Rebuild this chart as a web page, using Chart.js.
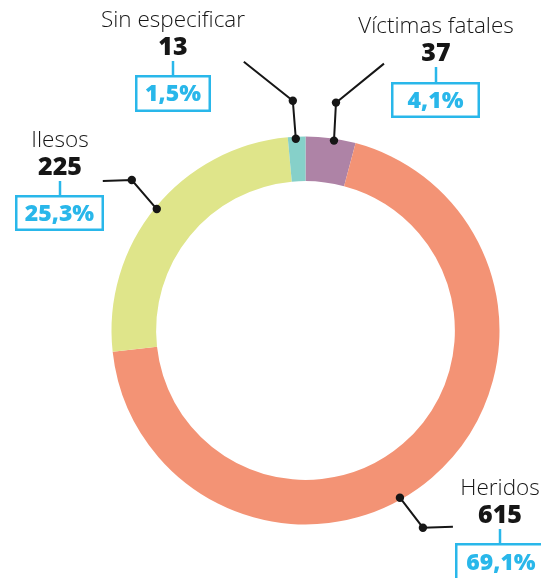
<!DOCTYPE html>
<html lang="es">
<head>
<meta charset="UTF-8">
<title>Víctimas</title>
<script src="https://cdn.jsdelivr.net/npm/chart.js@4"></script>
<style>
    html, body { margin: 0; padding: 0; background: #fff; }
    #wrap { width: 541px; height: 578px; position: relative; }
</style>
</head>
<body>
<div id="wrap"><canvas id="chart" width="541" height="578"></canvas></div>
<script>
// datos
const labels = ['Víctimas fatales', 'Heridos', 'Ilesos', 'Sin especificar'];
const values = [37, 615, 225, 13];
const percents = ['4,1%', '69,1%', '25,3%', '1,5%'];
const colors = ['#ae83a6', '#f39375', '#dfe58a', '#86d0c9'];

const CYAN = '#29b7ea';
const INK = '#161616';

// posición de cada etiqueta: t = punto a lo largo del arco, knee/end = codo de la guía
const callouts = [
    { t: 0.57, knee: [2, -38], end: [50, -77], cx: 436, nameY: 33, numY: 61, lineY: [67, 82], box: [391, 82, 89, 36] },
    { t: 0.545, knee: [23, 30], end: [53, 29], cx: 500, nameY: 495, numY: 523, lineY: [529, 543], box: [455, 543, 92, 38] },
    { t: 0.5, knee: [-25, -29], end: [-54, -28], cx: 60, nameY: 147, numY: 175, lineY: [181, 195], box: [15, 195, 89, 36] },
    { t: 0.45, knee: [-3, -38], end: [-52, -77], cx: 173, nameY: 27, numY: 55, lineY: [61, 75], box: [135, 75, 76, 37] }
];

const calloutPlugin = {
    id: 'callouts',
    afterDraw(chart) {
        const ctx = chart.ctx;
        const arcs = chart.getDatasetMeta(0).data;
        ctx.save();
        arcs.forEach((arc, i) => {
            const c = callouts[i];
            const p = arc.getProps(['x', 'y', 'startAngle', 'endAngle', 'outerRadius'], true);
            const a = p.startAngle + c.t * (p.endAngle - p.startAngle);
            const r = p.outerRadius - 2;
            const dx = p.x + Math.cos(a) * r;
            const dy = p.y + Math.sin(a) * r;
            const kx = dx + c.knee[0], ky = dy + c.knee[1];
            const ex = dx + c.end[0], ey = dy + c.end[1];

            // guía
            ctx.strokeStyle = INK;
            ctx.lineWidth = 2;
            ctx.beginPath();
            ctx.moveTo(dx, dy);
            ctx.lineTo(kx, ky);
            ctx.lineTo(ex, ey);
            ctx.stroke();
            ctx.fillStyle = INK;
            [[dx, dy], [kx, ky]].forEach(([x, y]) => {
                ctx.beginPath();
                ctx.arc(x, y, 4.2, 0, Math.PI * 2);
                ctx.fill();
            });

            // textos
            ctx.textAlign = 'center';
            ctx.textBaseline = 'alphabetic';
            ctx.fillStyle = INK;
            ctx.font = '300 22.5px "Open Sans"';
            ctx.fillText(labels[i], c.cx, c.nameY);
            ctx.font = '800 25px "Open Sans"';
            ctx.fillText(String(values[i]), c.cx, c.numY);

            // caja con porcentaje
            ctx.strokeStyle = CYAN;
            ctx.lineWidth = 2.5;
            ctx.beginPath();
            ctx.moveTo(c.cx, c.lineY[0]);
            ctx.lineTo(c.cx, c.lineY[1]);
            ctx.stroke();
            const [bx, by, bw, bh] = c.box;
            ctx.strokeRect(bx + 1.25, by + 1.25, bw - 2.5, bh - 2.5);
            ctx.fillStyle = CYAN;
            ctx.font = '800 23px "Open Sans"';
            ctx.textBaseline = 'middle';
            ctx.fillText(percents[i], bx + bw / 2, by + bh / 2 + 1);
        });
        ctx.restore();
    }
};

new Chart(document.getElementById('chart'), {
    type: 'doughnut',
    data: {
        labels: labels,
        datasets: [{
            data: values,
            backgroundColor: colors,
            borderWidth: 0
        }]
    },
    options: {
        responsive: false,
        animation: false,
        events: [],
        cutout: '77%',
        rotation: 0,
        layout: { padding: { left: 111.5, right: 41.5, top: 136.5, bottom: 53.5 } },
        plugins: {
            legend: { display: false },
            tooltip: { enabled: false }
        }
    },
    plugins: [calloutPlugin]
});
</script>
</body>
</html>
